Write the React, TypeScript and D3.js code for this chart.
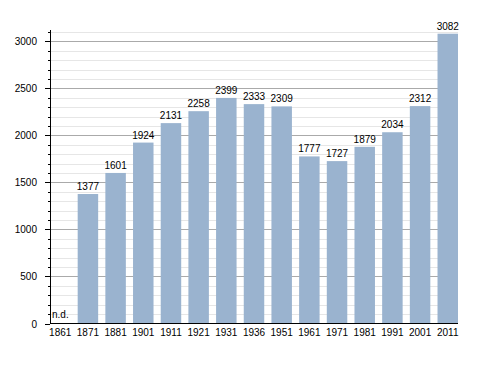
import React from 'react';
import * as d3 from 'd3';

// census years and population
const years = ['1861', '1871', '1881', '1901', '1911', '1921', '1931', '1936', '1951', '1961', '1971', '1981', '1991', '2001', '2011'];
const population: (number | null)[] = [null, 1377, 1601, 1924, 2131, 2258, 2399, 2333, 2309, 1777, 1727, 1879, 2034, 2312, 3082];
const majorTicks = [0, 500, 1000, 1500, 2000, 2500, 3000];

const W = 488, H = 373;

export default function App() {
    const x = d3.scaleBand<string>()
        .domain(years)
        .range([50, 458])
        .paddingInner(0.26)
        .paddingOuter(0);

    const y = d3.scaleLinear()
        .domain([0, 3100])
        .range([323.5, 32]);

    const minorTicks = d3.range(0, 3101, 100).filter(v => v % 500 !== 0);
    const font = 'Liberation Sans, Arial, sans-serif';
    const py = (v: number) => Math.round(y(v)) + 0.5;

    return (
        <svg width={W} height={H} style={{ position: 'absolute', left: 0, top: 0, background: '#fff' }}
             fontFamily={font} fontSize={10}>
            {minorTicks.map(v =>
                <line key={'m' + v} x1={50} x2={458} y1={py(v)} y2={py(v)} stroke="#e6e6e6" />
            )}
            {majorTicks.filter(v => v > 0).map(v =>
                <line key={'M' + v} x1={50} x2={458} y1={py(v)} y2={py(v)} stroke="#aaaaaa" />
            )}
            {years.map((yr, i) => {
                const v = population[i];
                const cx = (x(yr) as number) + x.bandwidth() / 2;
                if (v == null) {
                    return <text key={yr} x={52} y={318} fill="#000">n.d.</text>;
                }
                return (
                    <g key={yr}>
                        <rect x={x(yr)} y={y(v)} width={x.bandwidth()} height={y(0) - y(v)} fill="#9ab3cf" />
                        <text x={cx} y={y(v) - 4} textAnchor="middle" fill="#000">{v}</text>
                    </g>
                );
            })}
            {years.map(yr =>
                <text key={'l' + yr} x={(x(yr) as number) + x.bandwidth() / 2} y={336} textAnchor="middle" fill="#000">{yr}</text>
            )}
            {/* axes */}
            <line x1={50.5} x2={50.5} y1={30} y2={324} stroke="#000" />
            <line x1={50} x2={458} y1={323.5} y2={323.5} stroke="#000" />
            {minorTicks.map(v =>
                <line key={'mt' + v} x1={48} x2={50} y1={py(v)} y2={py(v)} stroke="#000" />
            )}
            {majorTicks.map(v =>
                <g key={'t' + v}>
                    <line x1={45} x2={50} y1={py(v)} y2={py(v)} stroke="#000" />
                    <text x={37} y={y(v) + 4} textAnchor="end" fill="#000">{v}</text>
                </g>
            )}
        </svg>
    );
}
